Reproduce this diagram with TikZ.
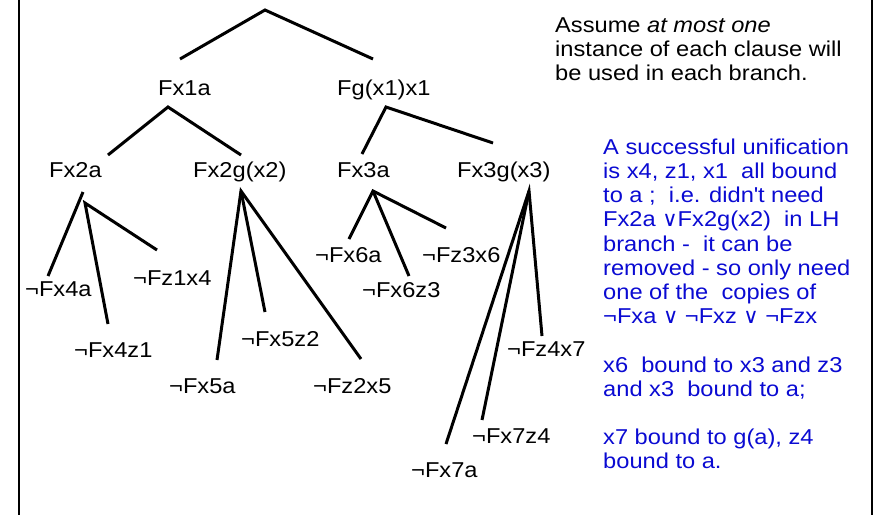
\documentclass[tikz,border=0pt]{standalone}
\usepackage{fontspec}
\setmainfont{Liberation Sans}[FakeStretch=1.1]
\newfontfamily\symf{DejaVu Sans}
\usetikzlibrary{positioning}
\definecolor{noteblue}{RGB}{10,10,210}
\newcommand{\orsym}{{\symf\fontsize{21}{21}\selectfont ∨}}

\begin{document}
\begin{tikzpicture}[x=1pt, y=-1pt,
        lbl/.style={anchor=base west, inner sep=0pt, font=\fontsize{21.5}{24.2}\selectfont},
        note/.style={anchor=north west, inner sep=0pt, align=left, font=\fontsize{21.5}{24.2}\selectfont},
        branch/.style={line width=3pt}]
        \useasboundingbox (0, 0) rectangle (874, 515);

        % first level
        \node[lbl] (fx1a) at (158, 95) {Fx1a};
        \node[lbl] (fgx1) at (337, 95) {Fg(x1)x1};
        \coordinate (top) at (265, 10);
        \coordinate (fx1a-in) at (180, 59);
        \coordinate (fgx1-in) at (373, 59);
        \draw[branch] (fx1a-in) -- (top) -- (fgx1-in);

        % second level
        \node[lbl] (fx2a) at (49, 177) {Fx2a};
        \node[lbl] (fx2g) at (193, 177) {Fx2g(x2)};
        \node[lbl] (fx3a) at (337, 177) {Fx3a};
        \node[lbl] (fx3g) at (457, 177) {Fx3g(x3)};
        \coordinate (fx1a-out) at (168, 107);
        \coordinate (fx2a-in) at (108, 155);
        \coordinate (fx2g-in) at (241, 155);
        \coordinate (fgx1-out) at (386, 107);
        \coordinate (fx3a-in) at (362, 154);
        \coordinate (fx3g-in) at (493, 143);
        \draw[branch] (fx2a-in) -- (fx1a-out) -- (fx2g-in);
        \draw[branch] (fx3a-in) -- (fgx1-out) -- (fx3g-in);

        % leaves under Fx2a
        \node[lbl] (nfx4a) at (25, 296) {¬Fx4a};
        \node[lbl] (nfz1x4) at (133, 285) {¬Fz1x4};
        \node[lbl] (nfx4z1) at (74, 357) {¬Fx4z1};
        \coordinate (fx2a-out) at (83, 192);
        \coordinate (fx2a-out2) at (85, 203);
        \coordinate (nfx4a-in) at (48, 276);
        \coordinate (nfx4z1-in) at (108, 324);
        \coordinate (nfz1x4-in) at (157, 250);
        \draw[branch] (fx2a-out) -- (nfx4a-in);
        \draw[branch] (nfx4z1-in) -- (fx2a-out2) -- (nfz1x4-in);

        % leaves under Fx2g(x2)
        \node[lbl] (nfx5a) at (169, 393) {¬Fx5a};
        \node[lbl] (nfx5z2) at (241, 346) {¬Fx5z2};
        \node[lbl] (nfz2x5) at (313, 393) {¬Fz2x5};
        \coordinate (fx2g-out) at (241, 191);
        \coordinate (nfx5a-in) at (217, 360);
        \coordinate (nfx5z2-in) at (265, 312);
        \coordinate (nfz2x5-in) at (361, 359);
        \draw[branch] (nfx5a-in) -- (fx2g-out) -- (nfz2x5-in);
        \draw[branch] (fx2g-out) -- (nfx5z2-in);

        % leaves under Fx3a
        \node[lbl] (nfx6a) at (315, 262) {¬Fx6a};
        \node[lbl] (nfz3x6) at (422, 262) {¬Fz3x6};
        \node[lbl] (nfx6z3) at (362, 297) {¬Fx6z3};
        \coordinate (fx3a-out) at (373, 191);
        \coordinate (nfx6a-in) at (349, 239);
        \coordinate (nfx6z3-in) at (409, 276);
        \coordinate (nfz3x6-in) at (446, 228);
        \draw[branch] (nfx6a-in) -- (fx3a-out) -- (nfz3x6-in);
        \draw[branch] (fx3a-out) -- (nfx6z3-in);

        % leaves under Fx3g(x3)
        \node[lbl] (nfz4x7) at (507, 356) {¬Fz4x7};
        \node[lbl] (nfx7z4) at (472, 443) {¬Fx7z4};
        \node[lbl] (nfx7a) at (411, 477) {¬Fx7a};
        \coordinate (fx3g-out) at (529, 191);
        \coordinate (nfx7a-in) at (446, 444);
        \coordinate (nfx7z4-in) at (482, 420);
        \coordinate (nfz4x7-in) at (542, 336);
        \draw[branch] (nfx7a-in) -- (fx3g-out) -- (nfz4x7-in);
        \draw[branch] (fx3g-out) -- (nfx7z4-in);

        % notes
        \node[note] (assume) at (555, 17.6) {Assume \textit{at most one}\\
            instance of each clause will\\
            be used in each branch.};
        \node[note, text=noteblue] (unif) at (603, 138.5) {A successful unification\\
            is x4, z1, x1~ all bound\\
            to a ;~ i.e. didn\textquotesingle t need\\
            Fx2a \orsym Fx2g(x2)~ in LH\\
            branch -~ it can be\\
            removed - so only need\\
            one of the~ copies of\\
            ¬Fxa \orsym\ ¬Fxz \orsym\ ¬Fzx\\
            \mbox{}\\
            x6~ bound to x3 and z3\\
            and x3~ bound to a;\\
            \mbox{}\\
            x7 bound to g(a), z4\\
            bound to a.};

        % frame
        \coordinate (lt) at (18.5, 0);
        \coordinate (lb) at (18.5, 515);
        \coordinate (rt) at (872, 0);
        \coordinate (rb) at (872, 515);
        \draw[line width=2pt, black] (lt) -- (lb);
        \draw[line width=2pt, black] (rt) -- (rb);
    \end{tikzpicture}
\end{document}
